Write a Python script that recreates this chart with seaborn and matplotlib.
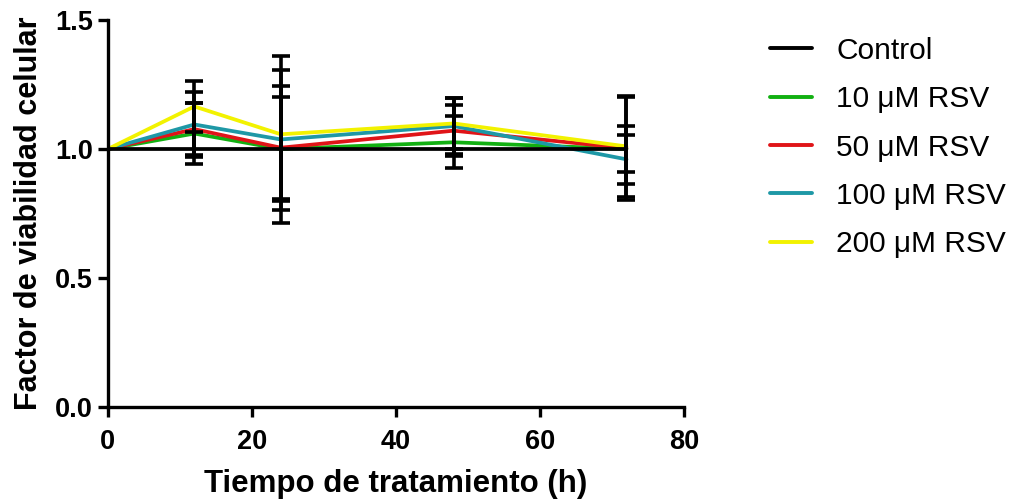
import numpy as np
import pandas as pd
import matplotlib
matplotlib.use("Agg")
import matplotlib.pyplot as plt
import seaborn as sns

# ---- data ----
time_h = [0, 12, 24, 48, 72]
control = [1.0, 1.0, 1.0, 1.0, 1.0]
rsv10 = [1.0, 1.060, 1.000, 1.026, 1.000]
rsv50 = [1.0, 1.077, 1.005, 1.071, 1.003]
rsv100 = [1.0, 1.095, 1.037, 1.089, 0.960]
rsv200 = [1.0, 1.165, 1.057, 1.099, 1.010]

err_time = [12, 24, 48, 72]
sd10 = [0.120, 0.200, 0.100, 0.090]
sd50 = [0.100, 0.240, 0.100, 0.200]
sd100 = [0.125, 0.325, 0.110, 0.095]
sd200 = [0.100, 0.250, 0.100, 0.195]

labels = ["Control", "10 \u03bcM RSV", "50 \u03bcM RSV", "100 \u03bcM RSV", "200 \u03bcM RSV"]
colors = ["#000000", "#12B012", "#E01418", "#1E98A6", "#F2F200"]

x_ticks = [0, 20, 40, 60, 80]
y_ticks = [0.0, 0.5, 1.0, 1.5]

series = [control, rsv10, rsv50, rsv100, rsv200]
sds = [None, sd10, sd50, sd100, sd200]

df = pd.DataFrame({
    "Tiempo": np.tile(time_h, len(labels)),
    "Valor": np.concatenate(series),
    "Grupo": np.repeat(labels, len(time_h)),
})

sns.set_style("ticks")
plt.rcParams["font.family"] = ["Liberation Sans", "DejaVu Sans"]
plt.rcParams["text.color"] = "black"
plt.rcParams["axes.labelcolor"] = "black"
plt.rcParams["xtick.color"] = "black"
plt.rcParams["ytick.color"] = "black"

fig = plt.figure(figsize=(10.18, 5.0), dpi=100)
ax = fig.add_axes([0.106, 0.186, 0.566, 0.774])

sns.lineplot(data=df, x="Tiempo", y="Valor", hue="Grupo", hue_order=labels,
             palette=dict(zip(labels, colors)), linewidth=2.7, ax=ax,
             errorbar=None, estimator=None)

# put the control line on top of coloured lines
for ln in ax.lines:
    if matplotlib.colors.to_hex(ln.get_color()) == "#000000":
        ln.set_zorder(3)

# error bars (black)
for lab, vals, sd in zip(labels, series, sds):
    if sd is None:
        continue
    yv = [vals[time_h.index(t)] for t in err_time]
    ax.errorbar(err_time, yv, yerr=sd, fmt="none", ecolor="black",
                elinewidth=2.6, capsize=6.5, capthick=2.6, zorder=4)

ax.set_xlim(0, 80)
ax.set_ylim(0, 1.5)
ax.set_xticks(x_ticks)
ax.set_yticks(y_ticks)
ax.set_xticklabels([str(v) for v in x_ticks])
ax.set_yticklabels([f"{v:.1f}" for v in y_ticks])

for s in ["top", "right"]:
    ax.spines[s].set_visible(False)
for s in ["left", "bottom"]:
    ax.spines[s].set_linewidth(2.4)
    ax.spines[s].set_color("black")
ax.tick_params(axis="both", width=2.4, length=7, color="black",
               labelcolor="black", labelsize=19.5)
ax.tick_params(axis="x", pad=9)
ax.tick_params(axis="y", pad=4)
for t in ax.get_xticklabels() + ax.get_yticklabels():
    t.set_fontweight("bold")

ax.set_xlabel("Tiempo de tratamiento (h)", fontsize=22.5, fontweight="bold",
              labelpad=10, color="black")
ax.set_ylabel("Factor de viabilidad celular", fontsize=22, fontweight="bold",
              labelpad=8, color="black")

handles, labs = ax.get_legend_handles_labels()
leg = ax.legend(handles, labs, loc="upper left", bbox_to_anchor=(0.745, 0.95),
                bbox_transform=fig.transFigure, frameon=False, fontsize=21.5,
                handlelength=1.4, handletextpad=0.8, labelspacing=0.68,
                borderaxespad=0)
for h in leg.get_lines():
    h.set_linewidth(2.8)
for t in leg.get_texts():
    t.set_color("black")

fig.savefig("out.png", dpi=100)
